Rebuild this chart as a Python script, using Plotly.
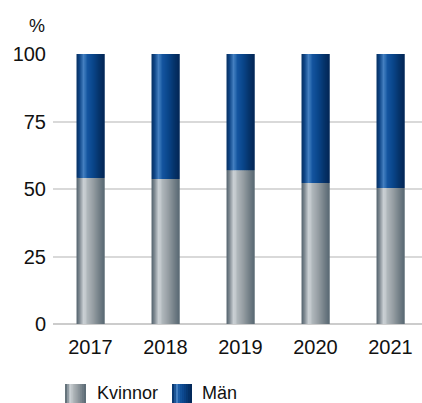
import plotly.graph_objects as go

years = ["2017", "2018", "2019", "2020", "2021"]
kvinnor = [54.1, 53.7, 57.0, 52.2, 50.4]
man = [round(100 - k, 1) for k in kvinnor]
series_names = ["Kvinnor", "Män"]
y_ticks = [0, 25, 50, 75, 100]

FONT = "Liberation Sans, Arial, sans-serif"
W, H = 422, 403
ML, MR, MT, MB = 53, 0, 54, 79
PW = W - ML - MR
PH = H - MT - MB
XR = [-0.5, -0.5 + PW / 75.0]  # 75 px per category

grey_stops = [(0.0, (82, 97, 107)), (0.1, (122, 134, 142)), (0.27, (212, 217, 220)),
              (0.38, (176, 183, 187)), (0.58, (152, 160, 165)), (0.82, (114, 126, 134)),
              (1.0, (88, 104, 114))]
blue_stops = [(0.0, (6, 46, 96)), (0.12, (16, 72, 138)), (0.27, (76, 136, 200)),
              (0.36, (22, 88, 162)), (0.58, (10, 70, 140)), (0.82, (5, 50, 105)),
              (1.0, (2, 38, 85))]


def interp(stops, t):
    for (p0, c0), (p1, c1) in zip(stops, stops[1:]):
        if p0 <= t <= p1:
            f = (t - p0) / (p1 - p0) if p1 > p0 else 0
            c = [round(a + (b - a) * f) for a, b in zip(c0, c1)]
            return "rgb(%d,%d,%d)" % tuple(c)
    return "rgb(%d,%d,%d)" % stops[-1][1]


BAR_W = 28 / 75.0
N = 14
sw = BAR_W / N

fig = go.Figure()
for name, vals, base, stops in [
    (series_names[0], kvinnor, [0] * len(kvinnor), grey_stops),
    (series_names[1], man, kvinnor, blue_stops),
]:
    for i in range(N):
        t = (i + 0.5) / N
        w = min(sw * 2.2, BAR_W - i * sw)
        fig.add_trace(go.Bar(
            x=years, y=vals, base=base, name=name,
            width=w, offset=-BAR_W / 2 + i * sw,
            marker=dict(color=interp(stops, t), line=dict(width=0)),
            showlegend=False, hoverinfo="skip",
        ))

shapes = []
annotations = []
# legend swatches (pixel-anchored at plot bottom-left)
for (x0, x1), stops, label, tx in [((12, 33), grey_stops, series_names[0], 42),
                                    ((119, 139), blue_stops, series_names[1], 147)]:
    n = 10
    step = (x1 - x0) / n
    for i in range(n):
        t = (i + 0.5) / n
        shapes.append(dict(type="rect", xref="paper", yref="paper",
                           xsizemode="pixel", ysizemode="pixel",
                           xanchor=0, yanchor=0,
                           x0=x0 + i * step, x1=min(x0 + (i + 2) * step, x1),
                           y0=-60, y1=-80,
                           fillcolor=interp(stops, t), line=dict(width=0), layer="above"))
    annotations.append(dict(text=label, xref="paper", yref="paper", x=0, y=0,
                            xshift=tx, yshift=-69, xanchor="left", yanchor="middle",
                            showarrow=False, font=dict(family=FONT, size=18, color="#111111")))

annotations.append(dict(text="%", xref="paper", yref="paper", x=0, y=1,
                        xshift=-6, yshift=28, xanchor="right", yanchor="middle",
                        showarrow=False, font=dict(family=FONT, size=18, color="#111111")))

fig.update_layout(
    width=W, height=H,
    margin=dict(l=ML, r=MR, t=MT, b=MB, pad=0),
    barmode="overlay",
    plot_bgcolor="white", paper_bgcolor="white",
    showlegend=False,
    shapes=shapes, annotations=annotations,
    xaxis=dict(type="category", range=XR, showgrid=False, showline=False,
               ticks="", ticklabelstandoff=9,
               tickfont=dict(family=FONT, size=20, color="#111111"), fixedrange=True),
    yaxis=dict(range=[0, 100], tickvals=y_ticks, showgrid=True, gridcolor="#d9d9d9",
               gridwidth=2, zeroline=True, zerolinecolor="#cccccc", zerolinewidth=2,
               showline=False, ticks="", ticklabelstandoff=6,
               tickfont=dict(family=FONT, size=20, color="#111111"), fixedrange=True),
)

fig.write_html("out.html", config={"displayModeBar": False})
